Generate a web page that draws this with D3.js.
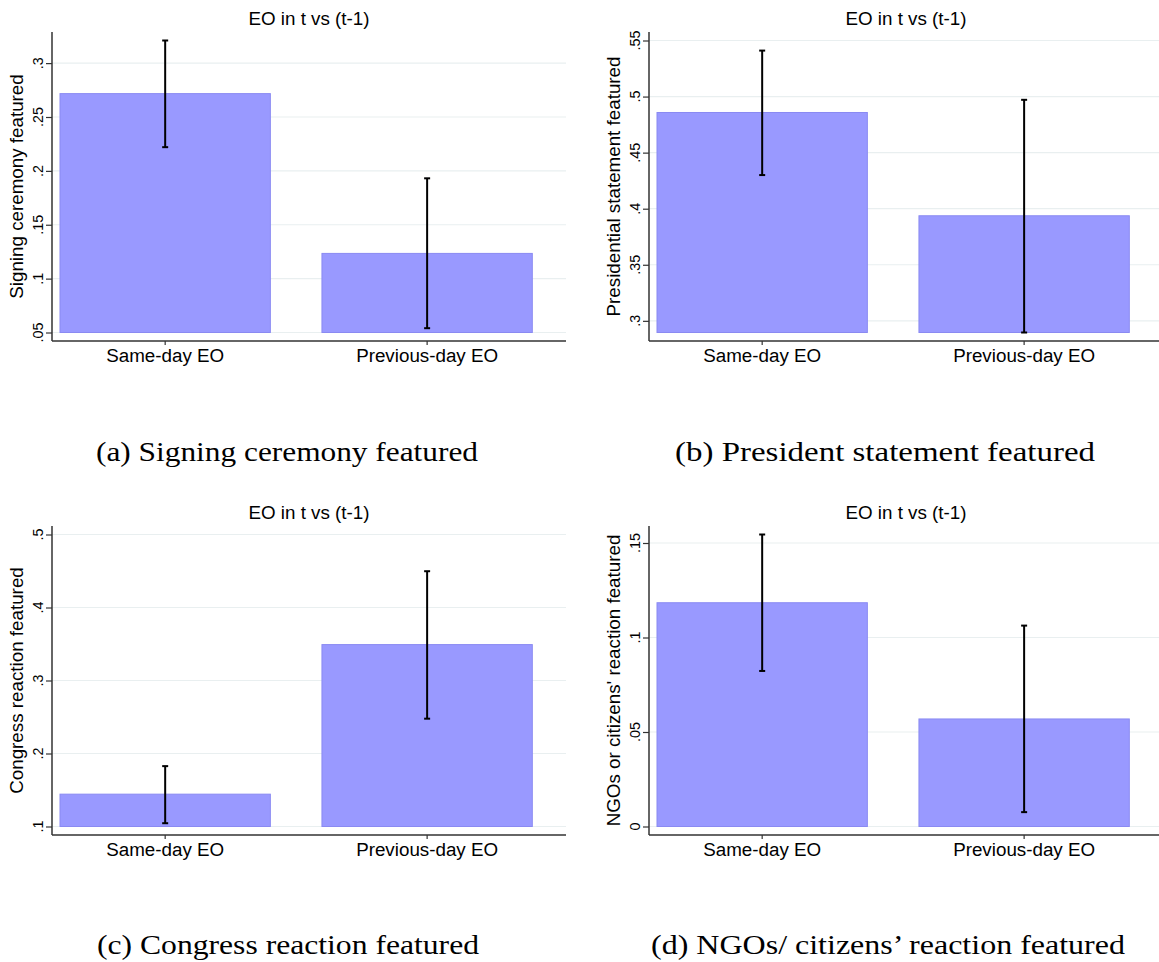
<!DOCTYPE html>
<html>
<head>
<meta charset="utf-8">
<script src="https://cdn.jsdelivr.net/npm/d3@7"></script>
<style>
  html, body { margin: 0; padding: 0; background: #ffffff; }
  svg { display: block; }
</style>
</head>
<body>
<svg id="chart" width="1159" height="962"></svg>
<script>
// ---------- data ----------
const categories = ["Same-day EO", "Previous-day EO"];
const panelTitle = "EO in t vs (t-1)";

const yTitles = [
  "Signing ceremony featured",
  "Presidential statement featured",
  "Congress reaction featured",
  "NGOs or citizens' reaction featured"
];
const captions = [
  "(a) Signing ceremony featured",
  "(b) President statement featured",
  "(c) Congress reaction featured",
  "(d) NGOs/ citizens\u2019 reaction featured"
];

const meanA = [0.2717, 0.1234];
const lowA  = [0.222, 0.054];
const highA = [0.321, 0.1931];

const meanB = [0.4858, 0.3937];
const lowB  = [0.430, 0.2896];
const highB = [0.541, 0.4971];

const meanC = [0.1443, 0.3492];
const lowC  = [0.1045, 0.2477];
const highC = [0.1827, 0.4497];

const meanD = [0.1184, 0.0569];
const lowD  = [0.0823, 0.0076];
const highD = [0.1545, 0.1063];

const ticksA = [0.05, 0.1, 0.15, 0.2, 0.25, 0.3];
const tickLabelsA = [".05", ".1", ".15", ".2", ".25", ".3"];
const ticksB = [0.3, 0.35, 0.4, 0.45, 0.5, 0.55];
const tickLabelsB = [".3", ".35", ".4", ".45", ".5", ".55"];
const ticksC = [0.1, 0.2, 0.3, 0.4, 0.5];
const tickLabelsC = [".1", ".2", ".3", ".4", ".5"];
const ticksD = [0, 0.05, 0.1, 0.15];
const tickLabelsD = ["0", ".05", ".1", ".15"];

const panels = [
  { mean: meanA, low: lowA, high: highA, ticks: ticksA, labels: tickLabelsA, ytitle: yTitles[0], caption: captions[0], col: 0, row: 0 },
  { mean: meanB, low: lowB, high: highB, ticks: ticksB, labels: tickLabelsB, ytitle: yTitles[1], caption: captions[1], col: 1, row: 0 },
  { mean: meanC, low: lowC, high: highC, ticks: ticksC, labels: tickLabelsC, ytitle: yTitles[2], caption: captions[2], col: 0, row: 1 },
  { mean: meanD, low: lowD, high: highD, ticks: ticksD, labels: tickLabelsD, ytitle: yTitles[3], caption: captions[3], col: 1, row: 1 }
];

// ---------- layout ----------
const colAxisX = [52, 649];
const rowOffset = [0, 494];
const plotWidth = 514;
const innerTop = 40.5, innerBottom = 332.5;
const axisTop = 32, axisBottom = 341;
const captionCenter = [[287, 885], [288, 888]];
const captionBaseline = [461, 954];
const captionWidth = [[382, 420], [382, 474]];

const sans = "'Liberation Sans', Arial, Helvetica, sans-serif";
const serif = "'Liberation Serif', 'Times New Roman', serif";
const barFill = "#9999ff";
const barStroke = "#8a8af2";
const gridColor = "#e9eff0";
const axisColor = "#333333";

const svg = d3.select("#chart");

panels.forEach(p => {
  const ax = colAxisX[p.col];
  const oy = rowOffset[p.row];
  const right = ax + plotWidth;
  const g = svg.append("g").attr("transform", `translate(0,${oy})`);

  const lo = Math.min(d3.min(p.low), d3.min(p.ticks));
  const hi = Math.max(d3.max(p.high), d3.max(p.ticks));
  const y = d3.scaleLinear().domain([lo, hi]).range([innerBottom, innerTop]);
  const x = d3.scaleBand().domain(categories)
    .range([ax + 8, ax + 480.3]).paddingInner(0.197).paddingOuter(0);

  // gridlines
  g.append("g").selectAll("line").data(p.ticks).join("line")
    .attr("x1", ax).attr("x2", Math.min(right, 1159))
    .attr("y1", d => y(d)).attr("y2", d => y(d))
    .attr("stroke", gridColor).attr("stroke-width", 1.2);

  // bars
  const rows = categories.map((c, i) => ({ c, m: p.mean[i], l: p.low[i], h: p.high[i] }));
  g.append("g").selectAll("rect").data(rows).join("rect")
    .attr("x", d => x(d.c))
    .attr("width", x.bandwidth())
    .attr("y", d => y(d.m))
    .attr("height", d => y(lo) - y(d.m))
    .attr("fill", barFill)
    .attr("stroke", barStroke)
    .attr("stroke-width", 1);

  // error bars
  const eg = g.append("g").attr("stroke", "#000").attr("stroke-width", 2).attr("fill", "none");
  rows.forEach(d => {
    const cx = x(d.c) + x.bandwidth() / 2;
    eg.append("line").attr("x1", cx).attr("x2", cx).attr("y1", y(d.h)).attr("y2", y(d.l));
    eg.append("line").attr("x1", cx - 3).attr("x2", cx + 3).attr("y1", y(d.h)).attr("y2", y(d.h));
    eg.append("line").attr("x1", cx - 3).attr("x2", cx + 3).attr("y1", y(d.l)).attr("y2", y(d.l));
  });

  // y axis
  const yAxis = d3.axisLeft(y).tickValues(p.ticks).tickSize(6).tickFormat("");
  const ya = g.append("g").attr("transform", `translate(${ax},0)`).call(yAxis);
  ya.select(".domain").remove();
  ya.selectAll(".tick line").attr("stroke", axisColor).attr("stroke-width", 1.2);
  g.append("line").attr("x1", ax).attr("x2", ax).attr("y1", axisTop).attr("y2", axisBottom)
    .attr("stroke", axisColor).attr("stroke-width", 1.5);

  g.append("g").selectAll("text").data(p.ticks).join("text")
    .attr("transform", (d) => `translate(${ax - 9.5},${y(d)}) rotate(-90)`)
    .attr("text-anchor", "middle")
    .attr("font-family", sans).attr("font-size", 14.4).attr("fill", "#000")
    .text((d, i) => p.labels[i]);

  // x axis
  const xAxis = d3.axisBottom(x).tickSize(4).tickSizeOuter(0);
  const xa = g.append("g").attr("transform", `translate(0,${axisBottom})`).call(xAxis);
  xa.select(".domain").remove();
  xa.selectAll(".tick line").attr("stroke", axisColor).attr("stroke-width", 1.2);
  xa.selectAll(".tick text").attr("font-family", sans).attr("font-size", 18.8)
    .attr("fill", "#000").attr("y", 8).attr("dy", "0.71em");
  g.append("line").attr("x1", ax).attr("x2", Math.min(right, 1159)).attr("y1", axisBottom).attr("y2", axisBottom)
    .attr("stroke", axisColor).attr("stroke-width", 1.5);

  // panel title
  g.append("text").attr("x", ax + 257).attr("y", 25)
    .attr("text-anchor", "middle").attr("font-family", sans).attr("font-size", 18.8)
    .attr("fill", "#000").text(panelTitle);

  // y title
  g.append("text")
    .attr("transform", `translate(${ax - 29.5},${(innerTop + innerBottom) / 2}) rotate(-90)`)
    .attr("text-anchor", "middle").attr("font-family", sans).attr("font-size", 18.8)
    .attr("fill", "#000").text(p.ytitle);

  // caption
  svg.append("text")
    .attr("x", captionCenter[p.row][p.col] - captionWidth[p.row][p.col] / 2)
    .attr("y", captionBaseline[p.row])
    .attr("textLength", captionWidth[p.row][p.col])
    .attr("lengthAdjust", "spacingAndGlyphs")
    .attr("font-family", serif).attr("font-size", 28)
    .attr("fill", "#000").text(p.caption);
});
</script>
</body>
</html>
